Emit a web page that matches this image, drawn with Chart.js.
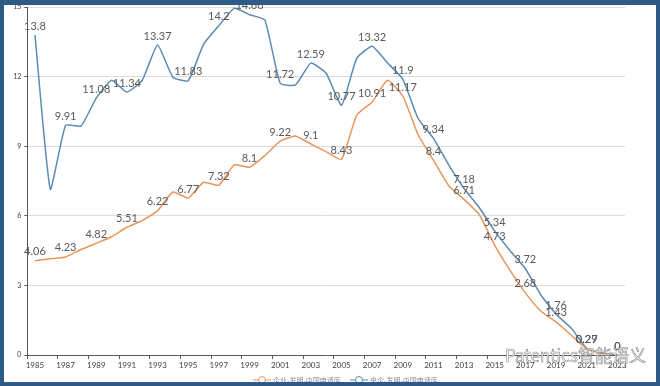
<!DOCTYPE html>
<html>
<head>
<meta charset="utf-8">
<script src="https://cdn.jsdelivr.net/npm/chart.js@4.4.1/dist/chart.umd.min.js"></script>
<style>
  html, body { margin: 0; padding: 0; background: #fff; }
  #wrap { position: relative; width: 660px; height: 386px; overflow: hidden; }
  #frame { position: absolute; left: 0; top: 0; width: 660px; height: 386px; box-sizing: border-box;
           border: 4px solid #2e5a88; border-top-width: 5px; pointer-events: none; }
  #mark { position: absolute; left: 505px; top: 342px; font: 17px "Noto Sans CJK SC", sans-serif;
          color: #fff; -webkit-text-stroke: 0.6px #8a8a8a; white-space: nowrap; pointer-events: none; }
</style>
</head>
<body>
<div id="wrap">
  <canvas id="myLineChart" width="660" height="386"></canvas>
  <div id="mark">Patentics智能语义</div>
  <div id="frame"></div>
</div>
<script>
// years on the x axis
const years = ['1985','1986','1987','1988','1989','1990','1991','1992','1993','1994',
  '1995','1996','1997','1998','1999','2000','2001','2002','2003','2004',
  '2005','2006','2007','2008','2009','2010','2011','2012','2013','2014',
  '2015','2016','2017','2018','2019','2020','2021','2022','2023'];

// 企业-发明-中国申请库
const qiyeData = [4.06, 4.15, 4.23, 4.55, 4.82, 5.1, 5.51, 5.8, 6.22, 7.03,
  6.77, 7.45, 7.32, 8.2, 8.1, 8.6, 9.22, 9.45, 9.1, 8.77,
  8.43, 10.35, 10.91, 11.85, 11.17, 9.5, 8.4, 7.3, 6.71, 6.05,
  4.73, 3.65, 2.68, 1.9, 1.43, 0.85, 0.27, 0.08, 0];

// 央企-发明-中国申请库
const yangqiData = [13.8, 7.15, 9.91, 9.87, 11.08, 11.85, 11.34, 11.85, 13.37, 11.98,
  11.83, 13.4, 14.2, 14.95, 14.68, 14.45, 11.72, 11.65, 12.59, 12.15,
  10.77, 12.8, 13.32, 12.6, 11.9, 10.2, 9.34, 8.2, 7.18, 6.35,
  5.34, 4.5, 3.72, 2.6, 1.76, 1.15, 0.29, 0.1, 0];

const seriesNames = ['企业-发明-中国申请库', '央企-发明-中国申请库'];
const seriesColors = ['#e8965c', '#5b8ab3'];

// value labels on every other point
const valueLabels = {
    id: 'valueLabels',
    afterDatasetsDraw(chart) {
        const ctx = chart.ctx;
        ctx.save();
        ctx.font = '11px Lato';
        ctx.fillStyle = '#595959';
        ctx.textAlign = 'center';
        ctx.textBaseline = 'middle';
        chart.data.datasets.forEach((ds, i) => {
            chart.getDatasetMeta(i).data.forEach((pt, j) => {
                if (j % 2 !== 0 || ds.data[j] === null) return;
                ctx.fillText(String(ds.data[j]), pt.x, pt.y - 9);
            });
        });
        ctx.restore();
    }
};

// small legend at the bottom (line + hollow circle like the original)
const bottomLegend = {
    id: 'bottomLegend',
    afterDraw(chart) {
        const ctx = chart.ctx;
        const items = [{ x: 262, tx: 273 }, { x: 359, tx: 370 }];
        const y = 380;
        ctx.save();
        ctx.font = '7px "Noto Sans CJK SC"';
        ctx.textBaseline = 'middle';
        items.forEach((it, i) => {
            ctx.strokeStyle = seriesColors[i];
            ctx.lineWidth = 1;
            ctx.beginPath();
            ctx.moveTo(it.x - 9, y);
            ctx.lineTo(it.x + 9, y);
            ctx.stroke();
            ctx.beginPath();
            ctx.arc(it.x, y, 3.5, 0, Math.PI * 2);
            ctx.fillStyle = '#fff';
            ctx.fill();
            ctx.stroke();
            ctx.fillStyle = '#8c8c8c';
            ctx.fillText(seriesNames[i], it.tx, y);
        });
        ctx.restore();
    }
};

const ctx = document.getElementById('myLineChart').getContext('2d');
const myChart = new Chart(ctx, {
    type: 'line',
    data: {
        labels: years,
        datasets: [{
            label: seriesNames[0],
            data: qiyeData,
            borderColor: seriesColors[0],
            borderWidth: 1.5,
            pointRadius: 0,
            tension: 0.15
        }, {
            label: seriesNames[1],
            data: yangqiData,
            borderColor: seriesColors[1],
            borderWidth: 1.5,
            pointRadius: 0,
            tension: 0.15
        }]
    },
    options: {
        responsive: false,
        animation: false,
        devicePixelRatio: 1,
        layout: { padding: { left: 0, right: 35, top: 5, bottom: 0 } },
        plugins: {
            legend: { display: false },
            tooltip: { enabled: false }
        },
        scales: {
            x: {
                offset: true,
                grid: {
                    offset: true,
                    drawOnChartArea: false,
                    tickLength: 4,
                    tickColor: (c) => (c.index % 2 === 0 ? '#595959' : 'rgba(0,0,0,0)')
                },
                border: { color: '#595959' },
                ticks: {
                    autoSkip: false,
                    maxRotation: 0,
                    padding: 2,
                    color: '#404040',
                    font: { family: 'Lato', size: 8 },
                    callback: (v, i) => (i % 2 === 0 ? years[i] : '')
                },
                afterFit: (s) => { s.height = 31; }
            },
            y: {
                min: 0,
                max: 15,
                grid: { color: '#dcdcdc', tickColor: '#595959', tickLength: 3 },
                border: { color: '#595959' },
                ticks: {
                    stepSize: 3,
                    padding: 3,
                    color: '#404040',
                    font: { family: 'Lato', size: 7 }
                },
                afterFit: (s) => { s.width = 27.3; }
            }
        }
    },
    plugins: [valueLabels, bottomLegend]
});
</script>
</body>
</html>
